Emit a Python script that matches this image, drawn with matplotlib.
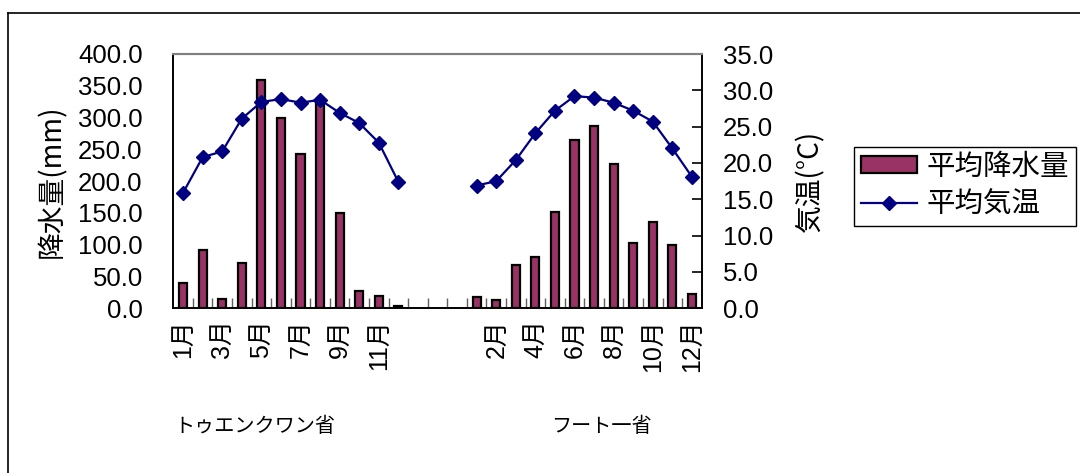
import numpy as np
import matplotlib
matplotlib.use('Agg')
import matplotlib.pyplot as plt
from matplotlib.patches import Patch
from matplotlib.lines import Line2D
from matplotlib.ticker import FormatStrFormatter, MultipleLocator, FixedLocator

plt.rcParams['font.family'] = ['Liberation Sans', 'Noto Sans CJK JP']
CJK = ['Noto Sans CJK JP', 'Liberation Sans']

MONTHS = list(range(1, 13))
PROVINCES = ['トゥエンクワン省', 'フート一省']

# monthly mean precipitation (mm) and temperature (degC)
tuyen_rain = [40, 91, 14, 71, 359, 299, 242, 325, 150, 27, 19, 4]
tuyen_temp = [15.9, 20.8, 21.6, 26.1, 28.4, 28.8, 28.3, 28.7, 26.9, 25.5, 22.8, 17.4]
phutho_rain = [18, 13, 68, 80, 151, 265, 286, 227, 103, 135, 99, 22]
phutho_temp = [16.9, 17.5, 20.4, 24.1, 27.2, 29.2, 29.0, 28.3, 27.2, 25.7, 22.0, 18.1]

GAP = 3
BAR_COLOR = '#993366'
LINE_COLOR = '#000080'

W, H = 1080, 473
fig = plt.figure(figsize=(W / 100, H / 100), dpi=100)

# outer chart border (left and top edges only show)
fig.add_artist(Line2D([8 / W, 8 / W], [-0.1, 1 - 13 / H], color='black', lw=1.2,
                      transform=fig.transFigure))
fig.add_artist(Line2D([8 / W, 1.1], [1 - 13 / H, 1 - 13 / H], color='black', lw=1.2,
                      transform=fig.transFigure))

ax = fig.add_axes([173.3 / W, 1 - 308.3 / H, (701.7 - 173.3) / W, (308.3 - 54) / H])
ax2 = ax.twinx()

x_a = np.arange(12)
x_b = np.arange(12) + 12 + GAP
n_cat = 24 + GAP

bar_kw = dict(width=0.42, color=BAR_COLOR, edgecolor='black', linewidth=1.6, zorder=2)
ax.bar(x_a, tuyen_rain, **bar_kw)
ax.bar(x_b, phutho_rain, **bar_kw)

line_kw = dict(color=LINE_COLOR, lw=1.6, marker='D', markersize=7.5, zorder=3)
ax2.plot(x_a, tuyen_temp, **line_kw)
ax2.plot(x_b, phutho_temp, **line_kw)

ax.set_xlim(-0.5, n_cat - 0.5)
ax.set_ylim(0, 400)
ax2.set_ylim(0, 35)

ax.yaxis.set_major_locator(MultipleLocator(50))
ax.yaxis.set_major_formatter(FormatStrFormatter('%.1f'))
ax2.yaxis.set_major_locator(MultipleLocator(5))
ax2.yaxis.set_major_formatter(FormatStrFormatter('%.1f'))

# every other month gets a label
tick_pos = list(x_a[::2]) + list(x_b[1::2])
tick_lab = ['%d月' % m for m in MONTHS[::2]] + ['%d月' % m for m in MONTHS[1::2]]
ax.set_xticks(tick_pos)
ax.set_xticklabels(tick_lab, rotation=90, fontsize=18)
ax.tick_params(axis='x', which='major', length=0, pad=8)
ax.xaxis.set_minor_locator(FixedLocator(np.arange(0.5, n_cat - 0.5)))
ax.tick_params(axis='x', which='minor', direction='in', length=7, width=1,
               color='#606060')

ax.tick_params(axis='y', length=0, pad=22, labelsize=18.5)
ax2.tick_params(axis='y', direction='in', length=7, width=1.2, pad=15, labelsize=18.5)

for a in (ax, ax2):
    a.spines['top'].set_color('#808080')
    a.spines['top'].set_linewidth(1.5)
    for s in ('left', 'right', 'bottom'):
        a.spines[s].set_color('black')
        a.spines[s].set_linewidth(1.2)

ax.set_ylabel('降水量(mm)', fontsize=20, labelpad=8, family=CJK)
ax2.set_ylabel('気温(°C)', fontsize=20, labelpad=16, rotation=90, family=CJK)

fig.text(174 / W, 1 - 426 / H, PROVINCES[0], fontsize=14.5, va='center', ha='left')
fig.text(551 / W, 1 - 426 / H, PROVINCES[1], fontsize=14.5, va='center', ha='left')

handles = [
    Patch(facecolor=BAR_COLOR, edgecolor='black', linewidth=1.6),
    Line2D([], [], color=LINE_COLOR, lw=1.6, marker='D', markersize=7),
]
leg = fig.legend(handles, ['平均降水量', '平均気温'], loc='upper left',
                 bbox_to_anchor=(854 / W, 1 - 147 / H), bbox_transform=fig.transFigure,
                 borderaxespad=0, fontsize=20.5, frameon=True, fancybox=False,
                 edgecolor='black', framealpha=1, borderpad=0.25, labelspacing=0.42,
                 handlelength=1.95, handleheight=0.5, handletextpad=0.35)
leg.get_frame().set_linewidth(1.0)

fig.savefig('out.png', dpi=100)
